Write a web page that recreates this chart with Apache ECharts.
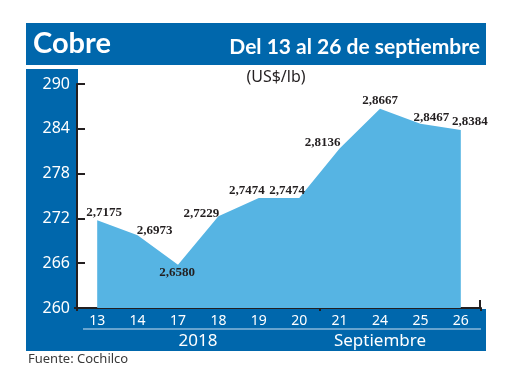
<!DOCTYPE html>
<html><head><meta charset="utf-8">
<script src="https://cdn.jsdelivr.net/npm/echarts@6/dist/echarts.min.js"></script>
<style>html,body{margin:0;padding:0;background:#fff}#c{width:520px;height:390px}</style>
</head><body><div id="c"></div>
<script>
const categories = ['13','14','17','18','19','20','21','24','25','26'];
const values = [271.75, 269.73, 265.80, 272.29, 274.74, 274.74, 281.36, 286.67, 284.67, 283.84];
const valueLabels = ['2,7175','2,6973','2,6580','2,7229','2,7474','2,7474','2,8136','2,8667','2,8467','2,8384'];
const yMin = 260, yMax = 290, yStep = 6;
const titleText = 'Cobre';
const subtitleText = 'Del 13 al 26 de septiembre';
const unitText = '(US$/lb)';
const yearText = '2018';
const monthText = 'Septiembre';
const sourceText = 'Fuente: Cochilco';

function buildOption() {
  const BLUE = '#0067AC';
  const labelOffsets = [[7,-8],[17,-5],[-1,8],[-17,-3],[-12,-7],[-12,-7],[-17,-6],[0,-8],[11,-6],[9,-8]];
  const seriesData = values.map((v, i) => ({
    value: v,
    label: { offset: labelOffsets[i] }
  }));
  return {
    animation: false,
    grid: { left: 77, top: 84, width: 404, height: 224, containLabel: false },
    xAxis: {
      type: 'category',
      data: categories,
      boundaryGap: true,
      axisLine: { show: true, lineStyle: { color: '#231f20', width: 2 } },
      axisTick: { show: true, length: 3, interval: 5, lineStyle: { color: '#231f20', width: 2 } },
      axisLabel: { color: '#ffffff', fontSize: 14, margin: 6, fontFamily: 'Noto Sans' },
      splitLine: { show: false }
    },
    yAxis: {
      type: 'value', min: yMin, max: yMax, interval: yStep,
      axisLine: { show: true, lineStyle: { color: '#231f20', width: 2 } },
      axisTick: { show: true, inside: true, length: 8, lineStyle: { color: '#231f20', width: 2 } },
      axisLabel: { color: '#ffffff', fontSize: 16, margin: 7, fontFamily: 'Noto Sans' },
      splitLine: { show: false }
    },
    series: [{
      type: 'line',
      data: seriesData,
      symbol: 'circle',
      symbolSize: 0.1,
      itemStyle: { color: '#56B4E3' },
      lineStyle: { width: 0, color: '#56B4E3' },
      areaStyle: { color: '#56B4E3', opacity: 1, origin: 'start' },
      z: 2,
      label: {
        show: true,
        position: 'inside',
        align: 'center',
        verticalAlign: 'middle',
        formatter: function (p) { return valueLabels[p.dataIndex]; },
        color: '#231f20',
        fontSize: 13,
        fontWeight: 'bold',
        fontFamily: "'Liberation Serif', serif"
      }
    }],
    graphic: [
      { type: 'rect', z: -10, shape: { x: 26, y: 23, width: 460, height: 42 }, style: { fill: BLUE } },
      { type: 'rect', z: -10, shape: { x: 26, y: 69, width: 52, height: 282 }, style: { fill: BLUE } },
      { type: 'rect', z: -10, shape: { x: 26, y: 309, width: 460, height: 42 }, style: { fill: BLUE } },
      { type: 'line', z: 5, shape: { x1: 83, y1: 329, x2: 481, y2: 329 }, style: { stroke: '#cfe2f2', lineWidth: 1 } },
      { type: 'line', z: 5, shape: { x1: 480, y1: 300, x2: 480, y2: 308 }, style: { stroke: '#231f20', lineWidth: 2 } },
      { type: 'line', z: 5, shape: { x1: 74, y1: 308, x2: 78, y2: 308 }, style: { stroke: '#231f20', lineWidth: 2 } },
      { type: 'text', z: 10, style: { text: titleText, x: 33, y: 44, fill: '#fff', font: 'bold 29px Lato', textVerticalAlign: 'middle' } },
      { type: 'text', z: 10, style: { text: subtitleText, x: 480, y: 47, fill: '#fff', font: 'bold 21px Lato', textAlign: 'right', textVerticalAlign: 'middle' } },
      { type: 'text', z: 10, style: { text: unitText, x: 276, y: 77, fill: '#231f20', font: '16px "Noto Sans"', textAlign: 'center', textVerticalAlign: 'middle' } },
      { type: 'text', z: 10, style: { text: yearText, x: 198, y: 341, fill: '#fff', font: '17px "Noto Sans"', textAlign: 'center', textVerticalAlign: 'middle' } },
      { type: 'text', z: 10, style: { text: monthText, x: 380, y: 341, fill: '#fff', font: '17px "Noto Sans"', textAlign: 'center', textVerticalAlign: 'middle' } },
      { type: 'text', z: 10, style: { text: sourceText, x: 28, y: 359, fill: '#3a3a3a', font: '13px "Noto Sans"', textVerticalAlign: 'middle' } }
    ]
  };
}
const chart = echarts.init(document.getElementById('c'), null, { renderer: 'canvas' });
chart.setOption(buildOption());
</script>
</body></html>
